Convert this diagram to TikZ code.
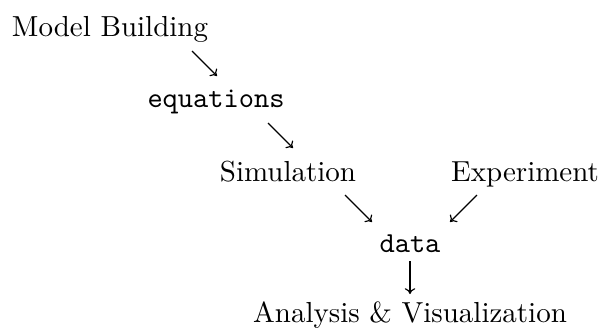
\documentclass[tikz,border=0pt]{standalone}
\usetikzlibrary{arrows.meta}
\begin{document}
\begin{tikzpicture}[x=0.345pt,y=-0.345pt,
  lbl/.style={anchor=base,inner sep=0pt,font=\rmfamily},
  code/.style={anchor=base,inner sep=0pt,font=\ttfamily},
  arr/.style={-{Computer Modern Rightarrow[length=2pt,width=3.6pt]},line width=0.4pt}]
\useasboundingbox (0,0) rectangle (602,330);
\node[lbl]  (mb)  at (110,36)  {Model Building};
\node[code] (eq)  at (216,107) {equations};
\node[lbl]  (sim) at (288,181) {Simulation};
\node[lbl]  (exp) at (525,181) {Experiment};
\node[code] (dat) at (410,252) {data};
\node[lbl]  (ana) at (410,322) {Analysis \& Visualization};
\coordinate (a1s) at (192,51);  \coordinate (a1e) at (217,76);
\coordinate (a2s) at (268,123); \coordinate (a2e) at (293,148);
\coordinate (a3s) at (345,195); \coordinate (a3e) at (372,222);
\coordinate (a4s) at (477,195); \coordinate (a4e) at (450,222);
\coordinate (a5s) at (410,261); \coordinate (a5e) at (410,294);
\draw[arr] (a1s) -- (a1e);
\draw[arr] (a2s) -- (a2e);
\draw[arr] (a3s) -- (a3e);
\draw[arr] (a4s) -- (a4e);
\draw[arr] (a5s) -- (a5e);
\end{tikzpicture}
\end{document}
